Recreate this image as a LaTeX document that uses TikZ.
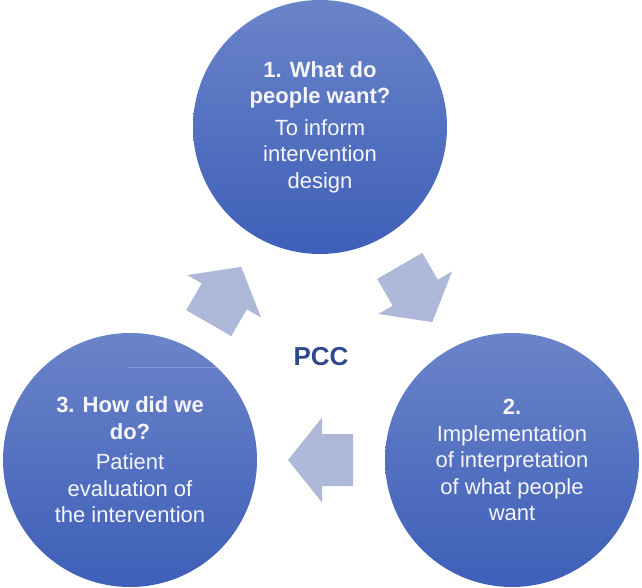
\documentclass[tikz,border=0pt]{standalone}
\usepackage{fontspec}
\setmainfont{Liberation Sans}
\definecolor{cTop}{RGB}{106,132,201}
\definecolor{cBot}{RGB}{62,95,184}
\definecolor{arrowfill}{RGB}{174,185,218}
\definecolor{pcc}{RGB}{47,74,140}
\definecolor{txt}{RGB}{245,245,250}
\definecolor{faint}{RGB}{135,156,214}
\begin{document}
\begin{tikzpicture}[x=1pt,y=-1pt,
  bubble/.style={circle, minimum size=254pt, inner sep=0pt, top color=cTop, bottom color=cBot,
    draw=none, text=txt, align=center, font=\fontsize{22}{26.5}\selectfont},
  blockarrow/.style={fill=arrowfill, draw=none}]
\useasboundingbox (0,0) rectangle (642,588);
\node[bubble] (c1) at (320,127) {\textbf{1. What do}\\\textbf{people want?}\\[5pt]To inform\\intervention\\design};
\node[bubble] (c2) at (512,460) {\textbf{2.}\\Implementation\\of interpretation\\of what people\\want};
\node[bubble] (c3) at (130,460) {\textbf{3. How did we}\\\textbf{do?}\\[4pt]Patient\\evaluation of\\the intervention};
\node[text=pcc, font=\fontsize{26}{30}\selectfont\bfseries] (pcc) at (321,357) {PCC};
\draw[faint, line width=0.8pt] (128,367) -- (217,367);
\foreach \cx/\cy/\ang in {416/294/-60, 320.5/460/180, 225/295/60}{
  \begin{scope}[shift={(\cx,\cy)}, rotate=\ang]
    \fill[blockarrow] (32.5,0) -- (-1.5,42.5) -- (-1.5,26) -- (-32.5,26) -- (-32.5,-26) -- (-1.5,-26) -- (-1.5,-42.5) -- cycle;
  \end{scope}
}
\end{tikzpicture}
\end{document}
